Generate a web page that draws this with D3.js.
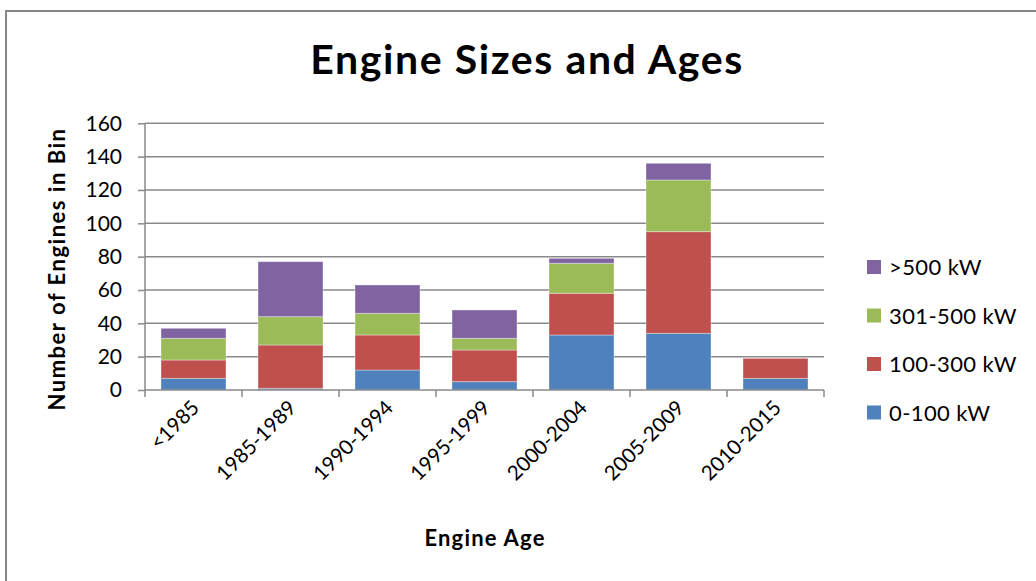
<!DOCTYPE html>
<html>
<head>
<meta charset="utf-8">
<script src="https://cdn.jsdelivr.net/npm/d3@7"></script>
<style>
  html, body { margin: 0; padding: 0; background: #fff; }
  svg { display: block; }
  text { font-family: Lato, "Open Sans", sans-serif; fill: #000; }
</style>
</head>
<body>
<svg id="chart" width="1036" height="581"></svg>
<script>
// Engine counts per age bin, stacked by power class
const ageBins = ["<1985", "1985-1989", "1990-1994", "1995-1999", "2000-2004", "2005-2009", "2010-2015"];
const sizeClasses = ["0-100 kW", "100-300 kW", "301-500 kW", ">500 kW"];
const kw0to100   = [7, 1, 12, 5, 33, 34, 7];
const kw100to300 = [11, 26, 21, 19, 25, 61, 12];
const kw301to500 = [13, 17, 13, 7, 18, 31, 0];
const kwOver500  = [6, 33, 17, 17, 3, 10, 0];
const yTicks = [0, 20, 40, 60, 80, 100, 120, 140, 160];
const classColors = ["#4F81BD", "#C0504D", "#9BBB59", "#8064A2"];

const seriesValues = [kw0to100, kw100to300, kw301to500, kwOver500];
const rows = ageBins.map((bin, i) => {
  const r = { bin };
  sizeClasses.forEach((c, k) => { r[c] = seriesValues[k][i]; });
  return r;
});

const svg = d3.select("#chart");
const plotLeft = 145, plotRight = 824, plotTop = 123.3, plotBottom = 390;

// chart frame
svg.append("rect")
  .attr("x", 6).attr("y", 11)
  .attr("width", 1100).attr("height", 700)
  .attr("fill", "none").attr("stroke", "#878787").attr("stroke-width", 2);

const x = d3.scaleBand().domain(ageBins).range([plotLeft, plotRight]).paddingInner(0.33).paddingOuter(0.165);
const y = d3.scaleLinear().domain([0, 160]).range([plotBottom, plotTop]);

// horizontal gridlines
svg.append("g").selectAll("line").data(yTicks.filter(t => t > 0)).join("line")
  .attr("x1", plotLeft).attr("x2", plotRight)
  .attr("y1", d => y(d)).attr("y2", d => y(d))
  .attr("stroke", "#8a8a8a").attr("stroke-width", 1.5);

// stacked bars
const stack = d3.stack().keys(sizeClasses);
const layers = stack(rows);
svg.append("g").selectAll("g").data(layers).join("g")
  .attr("fill", (d, i) => classColors[i])
  .selectAll("rect").data(d => d.filter(p => p[1] - p[0] > 0)).join("rect")
  .attr("x", d => x(d.data.bin))
  .attr("width", x.bandwidth())
  .attr("y", d => y(d[1]))
  .attr("height", d => y(d[0]) - y(d[1]))
  .attr("stroke", "rgba(255,255,255,0.35)").attr("stroke-width", 1);

// y axis
const yAxis = svg.append("g").attr("transform", `translate(${plotLeft},0)`)
  .call(d3.axisLeft(y).tickValues(yTicks).tickSize(7).tickPadding(16));
yAxis.select(".domain").attr("stroke", "#8a8a8a").attr("stroke-width", 1.5).attr("d", `M0,${plotTop}V${plotBottom}`);
yAxis.selectAll(".tick line").attr("stroke", "#8a8a8a").attr("stroke-width", 1.5);
yAxis.selectAll(".tick text").attr("font-size", 21).attr("fill", "#000")
  .style("font-family", "Lato, sans-serif");

// x axis with boundary ticks between bins
const xAxisG = svg.append("g").attr("transform", `translate(0,${plotBottom})`);
xAxisG.append("line").attr("x1", plotLeft).attr("x2", plotRight).attr("y1", 0).attr("y2", 0)
  .attr("stroke", "#8a8a8a").attr("stroke-width", 1.5);
const step = x.step();
xAxisG.selectAll(".bound").data(d3.range(ageBins.length + 1)).join("line")
  .attr("class", "bound")
  .attr("x1", i => plotLeft + i * step).attr("x2", i => plotLeft + i * step)
  .attr("y1", 0).attr("y2", 7)
  .attr("stroke", "#8a8a8a").attr("stroke-width", 1.5);
xAxisG.selectAll(".lbl").data(ageBins).join("text")
  .attr("class", "lbl")
  .attr("font-size", 20.5)
  .attr("text-anchor", "end")
  .attr("transform", d => `translate(${x(d) + x.bandwidth() / 2 + 7},${19}) rotate(-45)`)
  .text(d => d);

// titles
svg.append("text").attr("x", 527).attr("y", 74).attr("text-anchor", "middle")
  .attr("font-size", 41).attr("font-weight", "bold").attr("letter-spacing", 1.6)
  .text("Engine Sizes and Ages");
svg.append("text").attr("x", 485).attr("y", 546).attr("text-anchor", "middle")
  .attr("font-size", 22).attr("font-weight", "bold").attr("letter-spacing", 1.2)
  .text("Engine Age");
svg.append("text").attr("transform", "translate(65,269) rotate(-90)").attr("text-anchor", "middle")
  .attr("font-size", 22).attr("font-weight", "bold").attr("letter-spacing", 1.5)
  .text("Number of Engines in Bin");

// legend, top entry is the top of the stack
const legendOrder = d3.range(sizeClasses.length).reverse();
const lg = svg.append("g").selectAll("g").data(legendOrder).join("g")
  .attr("transform", (k, j) => `translate(867,${260 + j * 48.5})`);
lg.append("rect").attr("width", 14).attr("height", 14).attr("fill", k => classColors[k]);
lg.append("text").attr("x", 22).attr("y", 15).attr("font-size", 22).attr("letter-spacing", 0.4)
  .text(k => sizeClasses[k]);
</script>
</body>
</html>
